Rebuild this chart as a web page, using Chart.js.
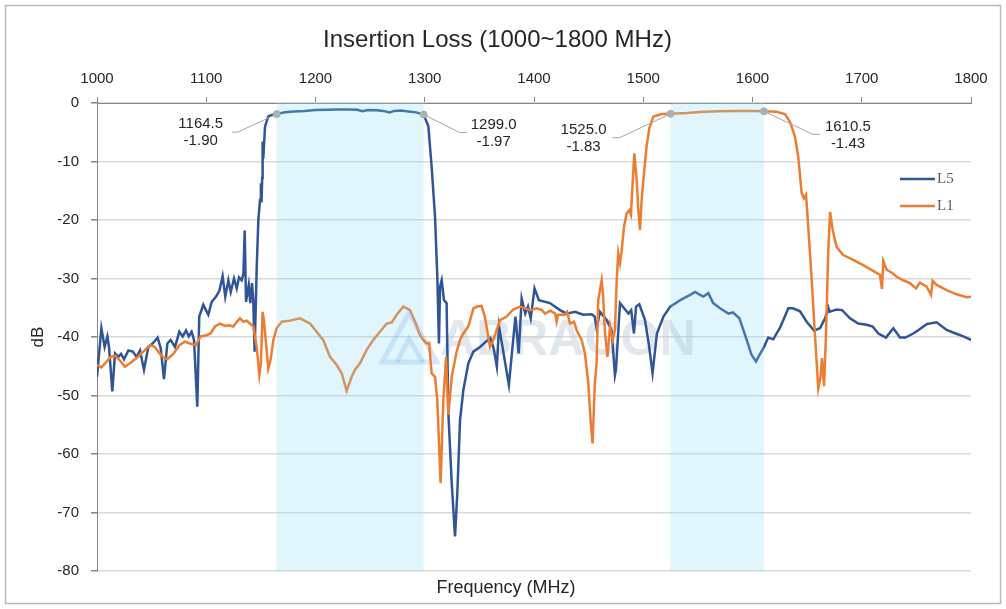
<!DOCTYPE html>
<html>
<head>
<meta charset="utf-8">
<title>Insertion Loss (1000~1800 MHz)</title>
<script src="https://cdn.jsdelivr.net/npm/chart.js@4.4.0/dist/chart.umd.min.js"></script>
<style>
    html, body { margin: 0; padding: 0; background: #fff; }
    #wrap { width: 1006px; height: 609px; }
</style>
</head>
<body>
<div id="wrap"><canvas id="lossChart" width="1006" height="609"></canvas></div>
<script>
// L5 trace (MHz / dB)
const l5Freq = [
    1000, 1004, 1007, 1009.5, 1011, 1014, 1016.5, 1019.5, 1022, 1024.7,
    1028.7, 1032.7, 1036.3, 1039.4, 1043, 1047, 1051, 1055.5, 1058.3, 1061.3,
    1064.4, 1067.4, 1071.4, 1075.4, 1078.4, 1081.5, 1084, 1086.6, 1088.8, 1091.8,
    1093.6, 1097.3, 1101.9, 1105, 1109, 1112, 1115, 1117.4, 1120.2, 1122.4,
    1125.4, 1127.9, 1130, 1132.4, 1134, 1135.2, 1136.4, 1138.9, 1140.3, 1141.9,
    1143, 1144.3, 1146.2, 1147.7, 1149.2, 1150, 1150.6, 1151.2, 1151.6, 1152.2,
    1153.8, 1156.8, 1160.5, 1164.5, 1172, 1180, 1190, 1200, 1210, 1220,
    1230, 1238, 1243, 1248, 1256, 1262, 1268, 1272, 1278, 1285,
    1292, 1299, 1303.3, 1306.3, 1309.4, 1311.5, 1313, 1314, 1315.5, 1317.6,
    1320, 1321.6, 1324.7, 1327.7, 1329.8, 1332.3, 1335.3, 1339.9, 1344.5, 1350.6,
    1356, 1360, 1363, 1366, 1368, 1377, 1383, 1386, 1388.7, 1392,
    1394.5, 1397, 1400.5, 1404.5, 1414.6, 1423.8, 1429.9, 1437.5, 1445.1, 1452.8,
    1455.5, 1457.3, 1460.4, 1466.5, 1471, 1474.1, 1475, 1478.7, 1482.5, 1486.5,
    1489, 1491.5, 1493.4, 1496.4, 1501.6, 1505, 1508.5, 1512.5, 1518.5, 1524.7,
    1533.9, 1543, 1547.4, 1552, 1555, 1559.6, 1564, 1570.3, 1578, 1582,
    1588, 1594.7, 1599, 1603.2, 1606, 1610, 1614.5, 1619, 1625.2, 1632.8,
    1637, 1643.5, 1649.6, 1656.3, 1661.8, 1666.4, 1669.4, 1670, 1677, 1682,
    1689.2, 1696.8, 1704.5, 1710, 1715.2, 1722.2, 1728.9, 1735, 1740, 1747.2,
    1752, 1759.4, 1768.5, 1777.7, 1786, 1793, 1800
];
const l5Loss = [
    -46.8, -38.5, -41.7, -39.9, -41.7, -49.3, -42.8, -43.4, -42.9, -43.8,
    -42.3, -42.5, -43.4, -42.3, -45.6, -41.7, -41.1, -40.1, -41.9, -47.2,
    -41.1, -40.5, -41.7, -39.1, -39.9, -38.9, -39.9, -39.1, -40.5, -51.9,
    -36.5, -34.5, -36.2, -34.0, -33.1, -32.1, -29.6, -33.1, -30.3, -32.3,
    -30.0, -31.7, -29.8, -30.3, -29.2, -21.8, -34.0, -31.1, -34.2, -30.8,
    -33.6, -42.5, -28.0, -20.0, -16.6, -13.7, -17.0, -12.8, -6.6, -9.5,
    -4.0, -2.3, -2.0, -1.90, -1.6, -1.45, -1.35, -1.2, -1.15, -1.1,
    -1.1, -1.15, -1.4, -1.2, -1.25, -1.35, -1.6, -1.35, -1.3, -1.45,
    -1.6, -1.97, -4.0, -10.9, -19.4, -29.7, -41.1, -31.4, -30.3, -33.7,
    -34.2, -53.0, -65.0, -74.1, -66.7, -54.2, -49.1, -44.5, -42.5, -41.7,
    -40.8, -40.2, -41.9, -45.1, -38.2, -48.2, -36.5, -42.8, -33.4, -36.0,
    -34.8, -36.8, -31.7, -33.7, -34.2, -35.4, -36.0, -35.7, -36.2, -36.1,
    -36.5, -38.5, -35.7, -37.1, -38.8, -46.5, -45.6, -34.2, -35.1, -36.0,
    -35.4, -39.4, -34.8, -34.4, -37.1, -41.1, -46.2, -39.4, -36.5, -34.8,
    -33.7, -32.8, -32.3, -32.8, -33.1, -32.5, -34.2, -35.1, -36.0, -35.8,
    -36.8, -40.5, -43.0, -44.2, -43.2, -41.9, -40.1, -40.4, -38.4, -35.1,
    -35.1, -35.6, -37.4, -38.9, -38.5, -36.8, -35.1, -35.7, -35.3, -35.4,
    -36.8, -37.7, -37.9, -38.2, -39.4, -40.1, -38.5, -40.1, -40.1, -39.4,
    -38.8, -37.8, -37.5, -38.8, -39.4, -39.9, -40.5
];

// L1 trace (MHz / dB)
const l1Freq = [
    1000, 1004, 1008.8, 1012.5, 1016.5, 1020.4, 1025.6, 1030.2, 1036.3, 1042.4,
    1048.5, 1053, 1056.1, 1060, 1064.4, 1069.8, 1075.4, 1080.5, 1085.1, 1090.6,
    1094.8, 1100.3, 1104, 1108, 1112.6, 1117.2, 1121, 1124.8, 1128, 1130.9,
    1134, 1137, 1140, 1143.1, 1146.2, 1148.6, 1150, 1151.6, 1152.8, 1154.7,
    1156.8, 1158.9, 1161.4, 1164.5, 1169, 1176.7, 1185.8, 1195, 1201, 1207,
    1213.3, 1219.4, 1224, 1228.5, 1233.1, 1236.2, 1240.7, 1246.8, 1252.9, 1259,
    1265.2, 1269.8, 1274.3, 1280.4, 1286.5, 1291.1, 1295.7, 1298.7, 1301.6, 1304,
    1306.3, 1309.4, 1311.5, 1314.5, 1317, 1319.5, 1321.6, 1324.7, 1329.2, 1332.3,
    1335.3, 1339.9, 1344.5, 1348, 1352, 1355, 1359.7, 1362.8, 1368.9, 1375,
    1381, 1387.2, 1391.8, 1396.4, 1402.6, 1407.2, 1410.2, 1414.8, 1419.4, 1420.7,
    1422, 1428.3, 1430.4, 1432.9, 1436.6, 1439, 1443.6, 1446.6, 1449.7, 1451.8,
    1453.6, 1455.7, 1457.3, 1458.8, 1461.9, 1463.3, 1465, 1467.2, 1469.6, 1472,
    1474.1, 1475.7, 1477.1, 1478.7, 1480.2, 1482.4, 1484.8, 1487.2, 1488.7, 1490.3,
    1491.8, 1494, 1495.5, 1497, 1498.5, 1500.7, 1503, 1505.6, 1509.3, 1517,
    1525, 1540, 1555, 1570, 1585, 1600, 1610.5, 1622, 1629.7, 1634.3,
    1638.9, 1641.9, 1645, 1647.1, 1649, 1651, 1654, 1657.1, 1660.2, 1662.3,
    1663.6, 1665.5, 1667.3, 1669.4, 1671, 1673.4, 1677, 1683, 1692.2, 1701.3,
    1710.5, 1716.7, 1718.5, 1719.7, 1722.8, 1728.3, 1731.9, 1738, 1744.1, 1749.7,
    1753.3, 1759.4, 1763.4, 1764.9, 1768.5, 1777.7, 1786.8, 1796, 1800
];
const l1Loss = [
    -44.8, -45.2, -44.2, -43.4, -43.2, -43.9, -45.1, -44.5, -43.6, -42.5,
    -41.4, -41.7, -42.5, -43.4, -43.8, -42.9, -41.4, -40.8, -41.1, -41.4,
    -39.9, -39.7, -39.4, -38.2, -37.7, -38.1, -38.0, -38.2, -37.4, -36.8,
    -37.4, -37.2, -37.7, -38.2, -41.7, -46.5, -44.5, -35.7, -37.1, -41.1,
    -45.4, -43.9, -40.5, -38.5, -37.4, -37.2, -36.8, -37.7, -39.1, -40.5,
    -43.4, -44.8, -46.2, -49.2, -46.8, -45.6, -44.5, -42.2, -40.5, -39.1,
    -37.7, -37.5, -36.2, -34.8, -35.4, -37.4, -39.7, -40.5, -41.1, -41.0,
    -46.2, -46.8, -50.8, -65.0, -50.8, -43.4, -53.3, -46.8, -42.5, -40.5,
    -39.4, -38.2, -35.1, -34.8, -34.7, -36.5, -41.7, -40.5, -37.1, -36.5,
    -35.3, -34.8, -35.1, -35.4, -35.1, -35.4, -36.0, -35.5, -36.0, -37.4,
    -36.2, -36.2, -35.7, -37.7, -37.4, -38.8, -40.5, -42.8, -47.9, -54.2,
    -58.2, -47.9, -44.5, -33.7, -30.3, -33.1, -39.4, -43.4, -38.2, -40.5,
    -38.8, -30.3, -25.7, -27.4, -25.4, -21.1, -18.9, -18.3, -19.1, -13.7,
    -8.6, -13.2, -18.3, -21.7, -16.6, -12.0, -7.5, -4.3, -2.3, -1.9,
    -1.83, -1.7, -1.5, -1.4, -1.35, -1.35, -1.43, -1.5, -1.9, -3.2,
    -5.8, -9.2, -15.4, -16.3, -15.7, -21.1, -29.7, -39.4, -48.8, -46.8,
    -43.6, -48.4, -39.4, -25.1, -18.6, -21.7, -24.6, -26.0, -26.8, -27.7,
    -28.7, -29.4, -31.8, -27.0, -28.5, -29.1, -29.7, -30.3, -30.8, -31.7,
    -30.7, -31.4, -32.8, -30.4, -31.1, -32.0, -32.7, -33.2, -33.1
];

// passband edge markers and the shaded bands between them
const markerFreq = [1164.5, 1299.0, 1525.0, 1610.5];
const markerLoss = [-1.90, -1.97, -1.83, -1.43];
const bandStart = [1164.5, 1525.0];
const bandEnd = [1299.0, 1610.5];

const seriesNames = ['L5', 'L1'];
const seriesColors = ['#2f5597', '#ed7d31'];

const SANS = 'Arial, "Liberation Sans", sans-serif';
const SERIF = '"Times New Roman", "Liberation Serif", serif';
const TEXT = '#262626';
const AXIS = '#868686';

// leader line layout for each callout: elbow offset, tail length, text offset from tail end
const calloutLayout = [
    { ex: -39, ey: 18, tail: -6, tx: -31 },
    { ex: 36, ey: 18, tail: 7, tx: 27 },
    { ex: -51, ey: 24, tail: -7, tx: -29 },
    { ex: 49, ey: 23, tail: 7, tx: 28 }
];

function toPoints(xs, ys) {
    return xs.map((x, i) => ({ x: x, y: ys[i] }));
}

// white page with the light frame around the whole chart
const framePlugin = {
    id: 'frame',
    beforeDraw(chart) {
        const ctx = chart.ctx;
        ctx.save();
        ctx.fillStyle = '#fff';
        ctx.fillRect(0, 0, chart.width, chart.height);
        ctx.strokeStyle = '#b8b8b8';
        ctx.lineWidth = 1.5;
        ctx.strokeRect(5.5, 5.5, chart.width - 11, chart.height - 11);
        ctx.restore();
    }
};

// faint vendor watermark behind the traces
const watermarkPlugin = {
    id: 'watermark',
    beforeDatasetsDraw(chart) {
        const ctx = chart.ctx;
        ctx.save();
        ctx.strokeStyle = 'rgba(120, 170, 240, 0.28)';
        ctx.lineWidth = 5;
        ctx.lineJoin = 'miter';
        ctx.beginPath();
        ctx.moveTo(382, 362);
        ctx.lineTo(409, 313);
        ctx.lineTo(437, 362);
        ctx.closePath();
        ctx.stroke();
        ctx.beginPath();
        ctx.moveTo(397, 362);
        ctx.lineTo(409, 339);
        ctx.lineTo(423, 362);
        ctx.stroke();
        ctx.fillStyle = 'rgba(190, 200, 215, 0.45)';
        ctx.font = 'bold 50px ' + SANS;
        ctx.textBaseline = 'alphabetic';
        ctx.fillText('ABRACON', 440, 355);
        ctx.restore();
    }
};

// tint the passbands over the traces, then add the callouts before the marker dots
const bandPlugin = {
    id: 'bands',
    afterDatasetDraw(chart, args) {
        if (args.index !== 1) return;
        const { ctx, scales: { x, y } } = chart;
        const top = y.getPixelForValue(0);
        const bottom = y.getPixelForValue(-80);
        ctx.save();
        ctx.fillStyle = 'rgba(136, 216, 243, 0.26)';
        bandStart.forEach((f0, i) => {
            const x0 = x.getPixelForValue(f0);
            const x1 = x.getPixelForValue(bandEnd[i]);
            ctx.fillRect(x0, top, x1 - x0, bottom - top);
        });

        ctx.strokeStyle = '#a6a6a6';
        ctx.lineWidth = 1;
        ctx.fillStyle = TEXT;
        ctx.font = '15px ' + SANS;
        ctx.textAlign = 'center';
        ctx.textBaseline = 'middle';
        markerFreq.forEach((f, i) => {
            const lay = calloutLayout[i];
            const px = x.getPixelForValue(f);
            const py = y.getPixelForValue(markerLoss[i]);
            const ex = px + lay.ex, ey = py + lay.ey;
            const tx = ex + lay.tail;
            ctx.beginPath();
            ctx.moveTo(px, py);
            ctx.lineTo(ex, ey);
            ctx.lineTo(tx, ey);
            ctx.stroke();
            ctx.fillText(f.toFixed(1), tx + lay.tx, ey - 8);
            ctx.fillText(markerLoss[i].toFixed(2), tx + lay.tx, ey + 9);
        });
        ctx.restore();
    }
};

// legend sits inside the plot on the right, x-axis title centred under the page
const legendPlugin = {
    id: 'insetLegend',
    afterDraw(chart) {
        const ctx = chart.ctx;
        ctx.save();
        ctx.font = '15px ' + SERIF;
        ctx.textBaseline = 'middle';
        ctx.textAlign = 'left';
        seriesNames.forEach((name, i) => {
            const ly = 179 + i * 27;
            ctx.strokeStyle = seriesColors[i];
            ctx.lineWidth = 2.5;
            ctx.beginPath();
            ctx.moveTo(900, ly);
            ctx.lineTo(935, ly);
            ctx.stroke();
            ctx.fillStyle = '#595959';
            ctx.fillText(name, 937, ly);
        });

        ctx.fillStyle = TEXT;
        ctx.font = '18px ' + SANS;
        ctx.textAlign = 'center';
        ctx.fillText('Frequency (MHz)', 506, 588);
        ctx.restore();
    }
};

const ctx = document.getElementById('lossChart').getContext('2d');
const lossChart = new Chart(ctx, {
    type: 'line',
    data: {
        datasets: [
            {
                label: seriesNames[0],
                data: toPoints(l5Freq, l5Loss),
                borderColor: seriesColors[0],
                borderWidth: 2.5,
                pointRadius: 0,
                tension: 0,
                order: 2
            },
            {
                label: seriesNames[1],
                data: toPoints(l1Freq, l1Loss),
                borderColor: seriesColors[1],
                borderWidth: 2.5,
                pointRadius: 0,
                tension: 0,
                order: 1
            },
            {
                label: 'edges',
                type: 'scatter',
                data: toPoints(markerFreq, markerLoss),
                backgroundColor: '#a8b0b8',
                borderColor: '#a8b0b8',
                pointRadius: 3.5,
                order: 0
            }
        ]
    },
    options: {
        responsive: false,
        animation: false,
        layout: { padding: { top: 26, left: 24, right: 35, bottom: 38 } },
        plugins: {
            legend: { display: false },
            tooltip: { enabled: false },
            title: {
                display: true,
                text: 'Insertion Loss (1000~1800 MHz)',
                color: TEXT,
                font: { family: SANS, size: 24, weight: 'normal' },
                padding: 0
            }
        },
        scales: {
            x: {
                type: 'linear',
                position: 'top',
                min: 1000,
                max: 1800,
                ticks: {
                    stepSize: 100,
                    maxRotation: 0,
                    padding: 9,
                    color: TEXT,
                    font: { family: SANS, size: 15 },
                    callback: v => String(v)
                },
                grid: { drawOnChartArea: false, tickLength: 6, tickColor: AXIS },
                border: { color: AXIS },
                afterFit: scale => { scale.height = 48.2; }
            },
            y: {
                min: -80,
                max: 0,
                ticks: {
                    stepSize: 10,
                    padding: 12,
                    color: TEXT,
                    font: { family: SANS, size: 15 },
                    callback: v => String(v)
                },
                grid: { color: '#d9d9d9', lineWidth: 1.5, tickLength: 6, tickColor: AXIS },
                border: { color: AXIS },
                title: {
                    display: true,
                    text: 'dB',
                    color: TEXT,
                    font: { family: SANS, size: 17 },
                    padding: { top: 4, bottom: 4 }
                },
                afterFit: scale => { scale.width = 73; }
            }
        }
    },
    plugins: [framePlugin, watermarkPlugin, bandPlugin, legendPlugin]
});
</script>
</body>
</html>
